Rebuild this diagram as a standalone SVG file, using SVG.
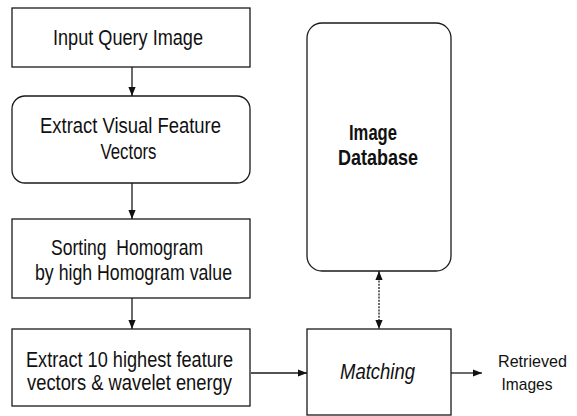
<svg xmlns="http://www.w3.org/2000/svg" width="577" height="416" viewBox="0 0 577 416">
<defs>
<style>
.box{fill:#fff;stroke:#1a1a1a;stroke-width:1.3}
.t{font-family:"Liberation Sans",Arial,sans-serif;font-size:21.5px;fill:#111;text-anchor:middle}
.b{font-weight:bold}
.i{font-style:italic}
.s{font-size:17px}
.c{stroke:#1a1a1a;stroke-width:1.3;fill:none}
.d{stroke-dasharray:2 1.2}
</style>
<marker id="ah" viewBox="0 0 10 10" refX="10" refY="5" markerWidth="9" markerHeight="9" markerUnits="userSpaceOnUse" orient="auto-start-reverse">
<path d="M0,1 L10,5 L0,9 z" fill="#111"/>
</marker>
</defs>
<rect width="577" height="416" fill="#fff"/>
<g id="n1">
<rect class="box" x="12" y="8" width="238" height="59"/>
<text class="t" x="128" y="45" textLength="150" lengthAdjust="spacingAndGlyphs">Input Query Image</text>
</g>
<g id="n2">
<rect class="box" x="12" y="96" width="238" height="87" rx="13"/>
<text class="t" x="130.5" y="133" textLength="181" lengthAdjust="spacingAndGlyphs">Extract Visual Feature</text>
<text class="t" x="128.5" y="159" textLength="56" lengthAdjust="spacingAndGlyphs">Vectors</text>
</g>
<g id="n3">
<rect class="box" x="12" y="219" width="238" height="79"/>
<text class="t" x="127" y="255" textLength="152" lengthAdjust="spacingAndGlyphs" xml:space="preserve">Sorting  Homogram</text>
<text class="t" x="133.5" y="280" textLength="197" lengthAdjust="spacingAndGlyphs">by high Homogram value</text>
</g>
<g id="n4">
<rect class="box" x="12" y="329" width="238" height="77"/>
<text class="t" x="129.5" y="367" textLength="207" lengthAdjust="spacingAndGlyphs">Extract 10 highest feature</text>
<text class="t" x="129.5" y="390" textLength="205" lengthAdjust="spacingAndGlyphs">vectors &amp; wavelet energy</text>
</g>
<g id="db">
<rect class="box" x="307" y="23" width="144" height="248" rx="15"/>
<text class="t b" x="373" y="140" textLength="48" lengthAdjust="spacingAndGlyphs">Image</text>
<text class="t b" x="378" y="165" textLength="80" lengthAdjust="spacingAndGlyphs">Database</text>
</g>
<g id="match">
<rect class="box" x="307" y="329" width="144" height="86"/>
<text class="t i" x="377.5" y="379" textLength="75" lengthAdjust="spacingAndGlyphs">Matching</text>
</g>
<g id="out">
<text class="t s" x="532.5" y="367" textLength="69" lengthAdjust="spacingAndGlyphs">Retrieved</text>
<text class="t s" x="527" y="390" textLength="51" lengthAdjust="spacingAndGlyphs">Images</text>
</g>
<g id="connectors">
<line class="c" x1="132" y1="67" x2="132" y2="96" marker-end="url(#ah)"/>
<line class="c" x1="132" y1="183" x2="132" y2="219" marker-end="url(#ah)"/>
<line class="c" x1="132" y1="298" x2="132" y2="329" marker-end="url(#ah)"/>
<line class="c" x1="251" y1="373" x2="307" y2="373" marker-end="url(#ah)"/>
<line class="c d" x1="379" y1="271" x2="379" y2="329" marker-start="url(#ah)" marker-end="url(#ah)"/>
<line class="c" x1="451" y1="373" x2="482" y2="373" marker-end="url(#ah)"/>
</g>
</svg>
